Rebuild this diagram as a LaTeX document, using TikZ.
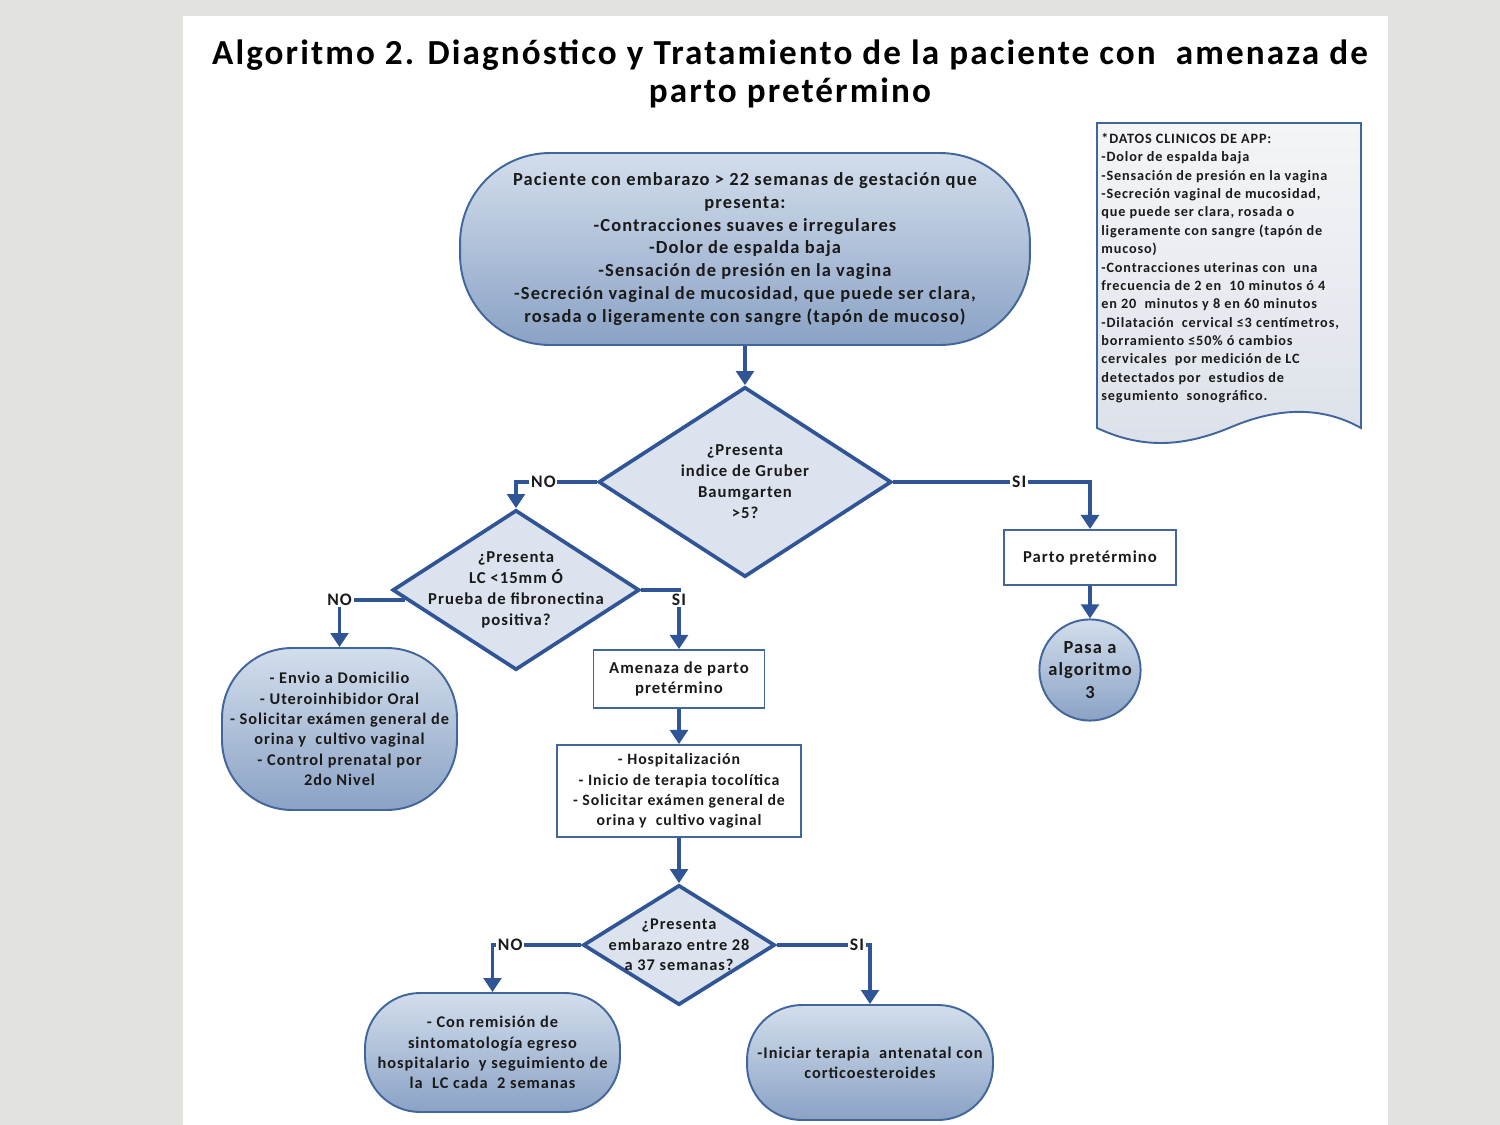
\documentclass[tikz,border=0pt]{standalone}
\usepackage{fontspec}
\setmainfont{Carlito}[LetterSpace=6]
\usetikzlibrary{shapes.geometric,arrows.meta}
\definecolor{lineblue}{HTML}{2F5597}
\definecolor{edgeblue}{HTML}{41669C}
\definecolor{dfill}{HTML}{DCE3EE}
\definecolor{gtop}{HTML}{D3DEEC}
\definecolor{gbot}{HTML}{8AA2C5}
\definecolor{bggray}{HTML}{E2E2DE}
\definecolor{notetop}{HTML}{F4F5F8}
\definecolor{notebot}{HTML}{DCE1E9}
\definecolor{txt}{HTML}{1A1A1A}
\begin{document}
\begin{tikzpicture}[x=0.02cm,y=-0.02cm,
 arr/.style={draw=lineblue, line width=2.1pt, -{Triangle[length=8pt,width=10pt]}},
 lbl/.style={fill=white, inner sep=1pt, text=txt, font=\bfseries\fontsize{10}{12}\selectfont},
 dec/.style={diamond, draw=lineblue, line width=2.1pt, fill=dfill, inner sep=0pt},
 dtxt/.style={align=center, inner sep=0pt, text=txt, font=\bfseries\fontsize{9.5}{12}\selectfont},
 stad/.style={draw=edgeblue, line width=1.1pt, top color=gtop, bottom color=gbot, align=center, text=txt},
 boxx/.style={draw=edgeblue, line width=1.1pt, fill=white, align=center, text=txt}]
\useasboundingbox (0,0) rectangle (1500,1125);
\fill[bggray] (0,0) rectangle (1500,1125);
\fill[white] (183,16) rectangle (1388,1125);

\node[align=center, text=black, font=\bfseries\fontsize{20}{21.8}\selectfont] (title) at (790,74)
 {Algoritmo 2. Diagnóstico y Tratamiento de la paciente con\ \ amenaza de\\parto pretérmino};

% side note
\draw[draw=edgeblue, line width=1.1pt, top color=notetop, bottom color=notebot]
 (1097,123) -- (1361,123) -- (1361,428) .. controls (1320,405) and (1275,408) .. (1229,428)
 .. controls (1180,448) and (1140,448) .. (1097,428) -- cycle;
\node[anchor=north west, inner sep=0pt, align=left, text=txt, font=\bfseries\fontsize{8.1}{10.45}\selectfont] (note) at (1101,133)
 {*DATOS CLINICOS DE APP:\\
 -Dolor de espalda baja\\
 -Sensación de presión en la vagina\\
 -Secreción vaginal de mucosidad,\\
 que puede ser clara, rosada o\\
 ligeramente con sangre (tapón de\\
 mucoso)\\
 -Contracciones uterinas con\ \ una\\
 frecuencia de 2 en\ \ 10 minutos ó 4\\
 en 20\ \ minutos y 8 en 60 minutos\\
 -Dilatación\ \ cervical ≤3 centímetros,\\
 borramiento ≤50\% ó cambios\\
 cervicales\ \ por medición de LC\\
 detectados por\ \ estudios de\\
 segumiento\ \ sonográfico.};

% nodes
\node[stad, rounded corners=1.8cm, minimum width=11.4cm, minimum height=3.84cm, font=\bfseries\fontsize{10.5}{13}\selectfont] (start) at (745,249)
 {Paciente con embarazo > 22 semanas de gestación que\\presenta:\\-Contracciones suaves e irregulares\\-Dolor de espalda baja\\-Sensación de presión en la vagina\\-Secreción vaginal de mucosidad, que puede ser clara,\\rosada o ligeramente con sangre (tapón de mucoso)};

\node[dec, minimum width=5.86cm, minimum height=3.8cm] (d1) at (745,482) {};
\node[dtxt] (d1t) at (d1.center) {¿Presenta\\indice de Gruber\\Baumgarten\\>5?};

\node[dec, minimum width=4.94cm, minimum height=3.2cm] (d2) at (516,590) {};
\node[dtxt] (d2t) at (d2.center) {¿Presenta\\LC <15mm Ó\\Prueba de fibronectina\\positiva?};

\node[boxx, minimum width=3.44cm, minimum height=1.1cm, font=\bfseries\fontsize{9.5}{12}\selectfont] (parto) at (1090,557.5)
 {Parto pretérmino};

\node[stad, circle, inner sep=0pt, minimum size=1.92cm, font=\bfseries\fontsize{10.5}{13}\selectfont] (pasa) at (1090,670)
 {Pasa a\\algoritmo\\3};

\node[stad, rounded corners=1.4cm, minimum width=4.7cm, minimum height=3.24cm, font=\bfseries\fontsize{9.3}{11.6}\selectfont] (envio) at (339.5,729)
 {- Envio a Domicilio\\- Uteroinhibidor Oral\\- Solicitar exámen general de\\orina y\ \ cultivo vaginal\\- Control prenatal por\\2do Nivel};

\node[boxx, minimum width=3.42cm, minimum height=1.16cm, font=\bfseries\fontsize{9.5}{11.5}\selectfont] (amen) at (679,679)
 {Amenaza de parto\\pretérmino};

\node[boxx, minimum width=4.88cm, minimum height=1.84cm, font=\bfseries\fontsize{9}{11.5}\selectfont] (hosp) at (679,791)
 {- Hospitalización\\- Inicio de terapia tocolítica\\- Solicitar exámen general de\\orina y\ \ cultivo vaginal};

\node[dec, minimum width=3.84cm, minimum height=2.4cm] (d3) at (679,945) {};
\node[dtxt, font=\bfseries\fontsize{9.3}{11.8}\selectfont] (d3t) at (d3.center) {¿Presenta\\embarazo entre 28\\a 37 semanas?};

\node[stad, rounded corners=1.1cm, minimum width=5.1cm, minimum height=2.38cm, font=\bfseries\fontsize{9.3}{11.5}\selectfont] (con) at (492.5,1052.5)
 {- Con remisión de\\sintomatología egreso\\hospitalario\ \ y seguimiento de\\la\ \ LC cada\ \ 2 semanas};

\node[stad, rounded corners=1.1cm, minimum width=4.92cm, minimum height=2.3cm, font=\bfseries\fontsize{9.3}{11.5}\selectfont] (ini) at (870,1062.5)
 {-Iniciar terapia\ \ antenatal con\\corticoesteroides};

% connectors
\draw[arr] (start.south) -- (d1.north);
\draw[arr] (d1.west) -| node[lbl, pos=0.33] (l1) {NO} (d2.north);
\draw[arr] (d1.east) -| node[lbl, pos=0.32] (l2) {SI} (parto.north);
\draw[arr] (parto.south) -- (pasa.north);
\draw[arr] (d2.185) -| node[lbl, pos=0.5] (l3) {NO} (envio.north);
\draw[arr] (d2.east) -| node[lbl, pos=0.5, anchor=north, yshift=0pt] (l4) {SI} (amen.north);
\draw[arr] (amen.south) -- (hosp.north);
\draw[arr] (hosp.south) -- (d3.north);
\draw[arr] (d3.west) -| node[lbl, pos=0.4] (l5) {NO} (con.north);
\draw[arr] (d3.east) -| node[lbl, pos=0.43] (l6) {SI} (ini.north);
\end{tikzpicture}
\end{document}
